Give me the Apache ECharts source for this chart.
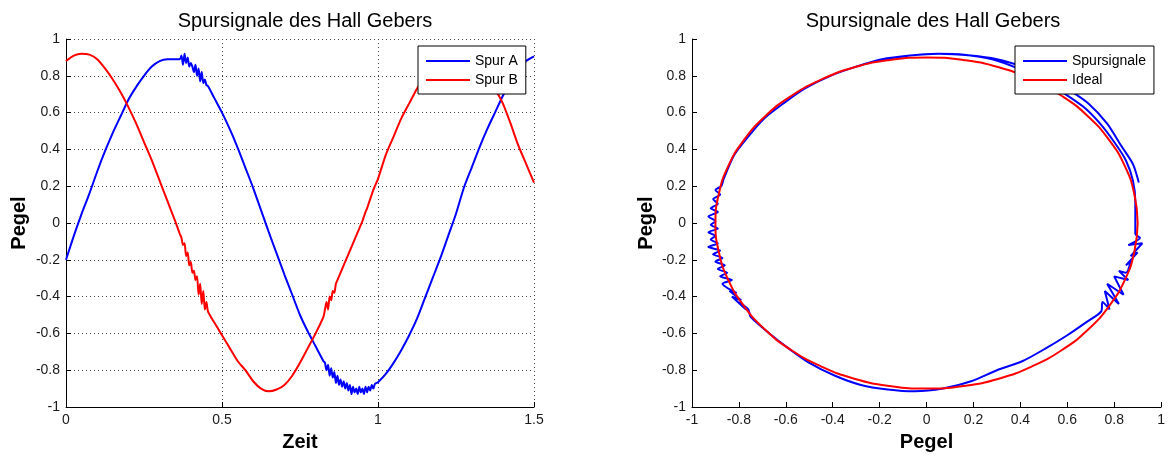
<!DOCTYPE html>
<html><head><meta charset="utf-8">
<script src="https://cdn.jsdelivr.net/npm/echarts@6/dist/echarts.min.js"></script>
<style>html,body{margin:0;padding:0;background:#fff}#c{width:1168px;height:457px}</style>
</head><body><div id="c"></div>
<script>
// Zeit (time) samples, shared by both track signals
const zeit = [
  0, 0.025, 0.05, 0.075, 0.1, 0.125, 0.15, 0.175, 0.2, 0.225, 0.25, 0.275, 0.3, 0.325, 0.35,
  0.365, 0.37, 0.375, 0.38, 0.385, 0.39, 0.395, 0.4, 0.405, 0.41, 0.415, 0.42, 0.425, 0.43, 0.435, 0.44, 0.445, 0.45, 0.455,
  0.475, 0.5, 0.525, 0.55, 0.575, 0.6, 0.625, 0.65, 0.675, 0.7, 0.725, 0.75, 0.775, 0.8, 0.825,
  0.83, 0.835, 0.84, 0.845, 0.85, 0.855, 0.86, 0.865, 0.87, 0.875, 0.88, 0.885, 0.89, 0.895, 0.9,
  0.905, 0.91, 0.915, 0.92, 0.925, 0.93, 0.935, 0.94, 0.945, 0.95, 0.955, 0.96, 0.965, 0.97, 0.975, 0.98, 0.985, 0.99,
  1.0, 1.025, 1.05, 1.075, 1.1, 1.125, 1.15, 1.175, 1.2, 1.225, 1.25, 1.275, 1.3, 1.325, 1.35, 1.375, 1.4, 1.425, 1.45, 1.475, 1.5
];
// Spur A (blue)
const spurA = [
  -0.20, -0.07, 0.05, 0.16, 0.28, 0.39, 0.49, 0.58, 0.67, 0.74, 0.80, 0.85, 0.88, 0.89, 0.89,
  0.89, 0.91, 0.86, 0.92, 0.87, 0.90, 0.85, 0.87, 0.85, 0.82, 0.86, 0.80, 0.84, 0.77, 0.82, 0.76, 0.78, 0.75, 0.745,
  0.68, 0.60, 0.51, 0.41, 0.30, 0.19, 0.07, -0.05, -0.165, -0.28, -0.39, -0.50, -0.59, -0.67, -0.75,
  -0.76, -0.80, -0.77, -0.83, -0.79, -0.84, -0.81, -0.87, -0.83, -0.88, -0.85, -0.89, -0.86, -0.90, -0.87,
  -0.91, -0.88, -0.93, -0.89, -0.92, -0.90, -0.93, -0.89, -0.92, -0.90, -0.93, -0.89, -0.92, -0.89, -0.91, -0.88, -0.90, -0.875,
  -0.865, -0.82, -0.76, -0.69, -0.61, -0.52, -0.41, -0.30, -0.19, -0.07, 0.05, 0.19, 0.30, 0.41, 0.51, 0.60, 0.69, 0.77, 0.83, 0.88, 0.905
];
// Spur B (red)
const spurB = [
  0.88, 0.91, 0.92, 0.915, 0.89, 0.84, 0.78, 0.71, 0.63, 0.54, 0.44, 0.34, 0.23, 0.12, 0.01,
  -0.06, -0.08, -0.12, -0.11, -0.18, -0.16, -0.23, -0.21, -0.27, -0.26, -0.31, -0.29, -0.39, -0.33, -0.44, -0.37, -0.47, -0.43, -0.48,
  -0.54, -0.61, -0.68, -0.75, -0.80, -0.86, -0.90, -0.915, -0.905, -0.88, -0.83, -0.76, -0.68, -0.60, -0.51,
  -0.47, -0.43, -0.47, -0.40, -0.42, -0.37, -0.38, -0.33, -0.31, -0.29, -0.27, -0.25, -0.23, -0.21, -0.19,
  -0.17, -0.15, -0.13, -0.11, -0.09, -0.07, -0.05, -0.03, -0.01, 0.01, 0.035, 0.06, 0.08, 0.105, 0.13, 0.155, 0.18, 0.20,
  0.24, 0.37, 0.47, 0.57, 0.65, 0.73, 0.80, 0.85, 0.89, 0.91, 0.92, 0.91, 0.89, 0.85, 0.80, 0.73, 0.65, 0.54, 0.42, 0.32, 0.22
];
// Ideal circle (right plot), read every 10 degrees
const idealX = [0.900, 0.886, 0.846, 0.779, 0.689, 0.579, 0.450, 0.308, 0.156, 0.000, -0.156, -0.308, -0.450, -0.579, -0.689, -0.779, -0.846, -0.886, -0.900,
  -0.886, -0.846, -0.779, -0.689, -0.579, -0.450, -0.308, -0.156, 0.000, 0.156, 0.308, 0.450, 0.579, 0.689, 0.779, 0.846, 0.886, 0.900];
const idealY = [0.000, 0.156, 0.308, 0.450, 0.579, 0.689, 0.779, 0.846, 0.886, 0.900, 0.886, 0.846, 0.779, 0.689, 0.579, 0.450, 0.308, 0.156, 0.000,
  -0.156, -0.308, -0.450, -0.579, -0.689, -0.779, -0.846, -0.886, -0.900, -0.886, -0.846, -0.779, -0.689, -0.579, -0.450, -0.308, -0.156, 0.000];

const titleText = 'Spursignale des Hall Gebers';
const legendLeft = ['Spur A', 'Spur B'];
const legendRight = ['Spursignale', 'Ideal'];
const xNameLeft = 'Zeit';
const axisNamePegel = 'Pegel';

const FONT = '"Liberation Sans", Arial, Helvetica, sans-serif';
const fmt = v => String(Math.round(v * 10) / 10);

function axis(extra) {
  return Object.assign({
    type: 'value',
    axisLine: { show: true, onZero: false, lineStyle: { color: '#000', width: 1 } },
    axisTick: { show: true, inside: true, length: 5, lineStyle: { color: '#000' } },
    axisLabel: { color: '#1a1a1a', fontSize: 14, fontFamily: FONT, margin: 6, formatter: fmt, showMinLabel: true, showMaxLabel: true },
    nameLocation: 'middle',
    nameTextStyle: { fontSize: 20, fontWeight: 'bold', color: '#000', fontFamily: FONT },
    splitLine: { show: false }
  }, extra);
}
const gridLine = { show: true, lineStyle: { color: '#444', width: 1, type: [1, 3] } };
const legendBase = { orient: 'vertical', top: 46, z: 10, backgroundColor: '#fff', borderColor: '#000', borderWidth: 1,
  icon: 'rect', padding: [8, 8, 7, 8], itemWidth: 44, itemHeight: 2, itemGap: 5,
  textStyle: { fontSize: 14, color: '#000', fontFamily: FONT } };

const chart = echarts.init(document.getElementById('c'), null, { renderer: 'canvas' });
chart.setOption({
  animation: false,
  backgroundColor: '#fff',
  title: [
    { text: titleText, left: 300, top: 6, textAlign: 'center', textStyle: { fontSize: 20, fontWeight: 'normal', color: '#000', fontFamily: FONT } },
    { text: titleText, left: 928, top: 6, textAlign: 'center', textStyle: { fontSize: 20, fontWeight: 'normal', color: '#000', fontFamily: FONT } }
  ],
  grid: [
    { left: 66, right: 634, top: 39, bottom: 48 },
    { left: 692, right: 5, top: 39, bottom: 48 }
  ],
  xAxis: [
    axis({ gridIndex: 0, min: 0, max: 1.5, interval: 0.5, name: xNameLeft, nameGap: 25, splitLine: gridLine }),
    axis({ gridIndex: 1, min: -1, max: 1, interval: 0.2, name: axisNamePegel, nameGap: 25 })
  ],
  yAxis: [
    axis({ gridIndex: 0, min: -1, max: 1, interval: 0.2, name: axisNamePegel, nameGap: 37, splitLine: gridLine }),
    axis({ gridIndex: 1, min: -1, max: 1, interval: 0.2, name: axisNamePegel, nameGap: 36 })
  ],
  legend: [
    Object.assign({ data: legendLeft, left: 418 }, legendBase),
    Object.assign({ data: legendRight, left: 1015 }, legendBase)
  ],
  series: [
    { name: 'Spur A', type: 'line', xAxisIndex: 0, yAxisIndex: 0, symbol: 'none', smooth: 0.25, color: '#0000ff', lineStyle: { width: 2, color: '#0000ff' },
      data: zeit.map((t, i) => [t, spurA[i]]) },
    { name: 'Spur B', type: 'line', xAxisIndex: 0, yAxisIndex: 0, symbol: 'none', smooth: 0.25, color: '#ff0000', lineStyle: { width: 2, color: '#ff0000' },
      data: zeit.map((t, i) => [t, spurB[i]]) },
    { name: 'Spursignale', type: 'line', xAxisIndex: 1, yAxisIndex: 1, symbol: 'none', smooth: 0.25, color: '#0000ff', lineStyle: { width: 2, color: '#0000ff' },
      data: zeit.map((t, i) => [spurA[i], spurB[i]]) },
    { name: 'Ideal', type: 'line', xAxisIndex: 1, yAxisIndex: 1, symbol: 'none', smooth: 0.5, color: '#ff0000', lineStyle: { width: 2, color: '#ff0000' },
      data: idealX.map((x, i) => [x, idealY[i]]) }
  ]
});
</script>
</body></html>
